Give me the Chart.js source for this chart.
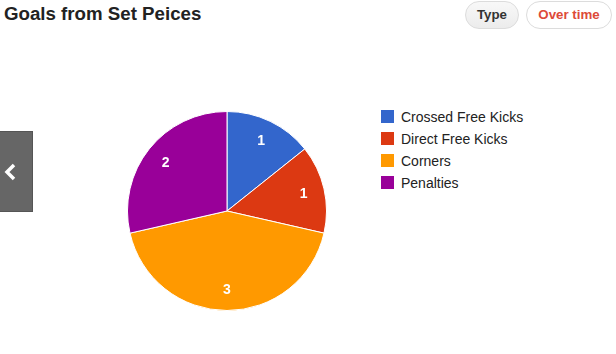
<!DOCTYPE html>
<html>
<head>
<meta charset="utf-8">
<script src="https://cdn.jsdelivr.net/npm/chart.js@4/dist/chart.umd.min.js"></script>
<style>
  html, body { margin:0; padding:0; background:#fff; width:616px; height:354px; overflow:hidden; font-family:"Liberation Sans", Arial, sans-serif; }
  #title { position:absolute; left:4px; top:3px; font-size:18.7px; font-weight:bold; color:#222; white-space:nowrap; }
  .btn { position:absolute; top:1px; height:26px; line-height:26px; border:1px solid #dcdcdc; border-radius:14px; font-size:13.3px; font-weight:bold; text-align:center; box-sizing:content-box; }
  #btnType { left:465px; width:52px; background:linear-gradient(#f8f8f8,#ececec); color:#333; }
  #btnOver { left:526px; width:84px; background:#fff; color:#dd4b39; }
  #tab { position:absolute; left:0; top:131px; width:32px; height:79px; background:#666; border:1px solid #555; border-left:none; }
  #tab svg { position:absolute; left:4px; top:31px; }
  #wrap { position:absolute; left:127px; top:111px; width:200px; height:200px; }
  #legend { position:absolute; left:381px; top:110px; font-size:14px; color:#222; }
  .li { position:relative; height:22px; white-space:nowrap; }
  .sw { position:absolute; left:0; top:0; width:13px; height:13px; }
  .lt { position:absolute; left:20px; top:0; line-height:15px; }
</style>
</head>
<body>
<div id="title">Goals from Set Peices</div>
<div class="btn" id="btnType">Type</div>
<div class="btn" id="btnOver">Over time</div>
<div id="tab"><svg width="14" height="18" viewBox="0 0 14 18"><polyline points="10,2 3,9 10,16" fill="none" stroke="#fff" stroke-width="3.5"/></svg></div>
<div id="wrap"><canvas id="c" width="200" height="200"></canvas></div>
<div id="legend"></div>
<script>
const categories = ["Crossed Free Kicks", "Direct Free Kicks", "Corners", "Penalties"];
const goals = [1, 1, 3, 2];
const colors = ["#3366cc", "#dc3912", "#ff9900", "#990099"];

const legend = document.getElementById('legend');
categories.forEach((c, i) => {
  const d = document.createElement('div'); d.className = 'li';
  const s = document.createElement('div'); s.className = 'sw'; s.style.background = colors[i];
  const t = document.createElement('div'); t.className = 'lt'; t.textContent = c;
  d.appendChild(s); d.appendChild(t); legend.appendChild(d);
});

const sliceLabels = {
  id: 'sliceLabels',
  afterDatasetsDraw(chart) {
    const ctx = chart.ctx;
    const meta = chart.getDatasetMeta(0);
    ctx.save();
    ctx.fillStyle = '#fff';
    ctx.font = 'bold 14px "Liberation Sans", Arial, sans-serif';
    ctx.textAlign = 'center';
    ctx.textBaseline = 'middle';
    meta.data.forEach((arc, i) => {
      const p = arc.getProps(['x','y','startAngle','endAngle','outerRadius'], true);
      const mid = (p.startAngle + p.endAngle) / 2;
      const r = p.outerRadius * 0.79;
      ctx.fillText(String(chart.data.datasets[0].data[i]), p.x + Math.cos(mid) * r, p.y + Math.sin(mid) * r + 1);
    });
    ctx.restore();
  }
};

new Chart(document.getElementById('c'), {
  type: 'pie',
  data: { labels: categories, datasets: [{ data: goals, backgroundColor: colors, borderColor: '#fff', borderWidth: 1 }] },
  options: {
    responsive: false,
    animation: false,
    layout: { padding: 0 },
    plugins: { legend: { display: false }, tooltip: { enabled: false } }
  },
  plugins: [sliceLabels]
});
</script>
</body>
</html>
